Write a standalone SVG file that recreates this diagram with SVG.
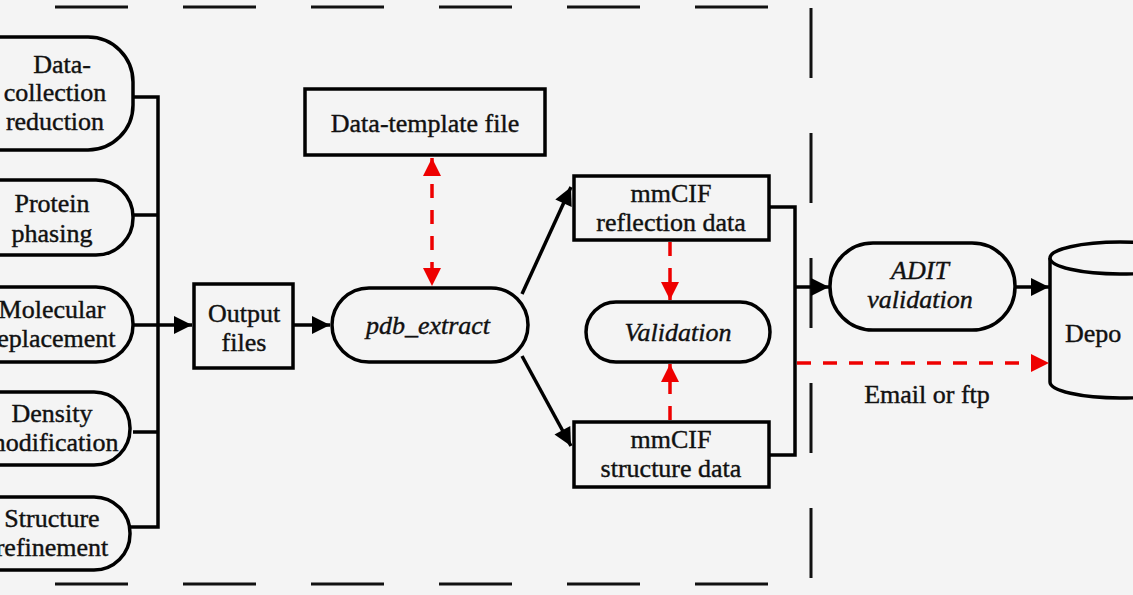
<svg xmlns="http://www.w3.org/2000/svg" width="1133" height="595" viewBox="0 0 1133 595">
<defs>
<marker id="a" viewBox="0 0 10 10" refX="10" refY="5" markerWidth="20" markerHeight="18" orient="auto-start-reverse" markerUnits="userSpaceOnUse"><path d="M0,0L10,5L0,10z" fill="#000"/></marker>
<marker id="ar" viewBox="0 0 10 10" refX="10" refY="5" markerWidth="18" markerHeight="18" orient="auto-start-reverse" markerUnits="userSpaceOnUse"><path d="M0,0L10,5L0,10z" fill="#e00"/></marker>
</defs>
<style>
.s{fill:#f4f4f4;stroke:#000;stroke-width:3.5}
.t{font-family:'Liberation Serif','DejaVu Serif',serif;font-size:26px;fill:#111;text-anchor:middle;stroke:#111;stroke-width:0.4}
.i{font-style:italic}
.c{fill:none;stroke:#000;stroke-width:3.5}
.r{fill:none;stroke:#e00;stroke-width:3.5;stroke-dasharray:14 12}
.b{fill:none;stroke:#111;stroke-width:3;stroke-dasharray:73 55}
</style>
<rect width="1133" height="595" fill="#f4f4f4"/>
<g id="frame">
<line class="b" x1="-73" y1="7" x2="772" y2="7"/>
<line class="b" x1="-73" y1="584" x2="772" y2="584"/>
<line class="b" x1="811" y1="8" x2="811" y2="590" style="stroke-dasharray:70 55"/>
</g>
<g id="n1"><rect class="s" x="-80" y="37" width="213" height="113" rx="45"/><text class="t" x="62" y="73">Data-</text><text class="t" x="55" y="101">collection</text><text class="t" x="55" y="130">reduction</text></g>
<g id="n2"><rect class="s" x="-80" y="180" width="213" height="75" rx="37"/><text class="t" x="52" y="212">Protein</text><text class="t" x="52" y="242">phasing</text></g>
<g id="n3"><rect class="s" x="-80" y="287" width="213" height="75" rx="37"/><text class="t" x="52" y="318">Molecular</text><text class="t" x="52" y="347">replacement</text></g>
<g id="n4"><rect class="s" x="-80" y="392" width="210" height="73" rx="36"/><text class="t" x="52" y="422">Density</text><text class="t" x="52" y="451">modification</text></g>
<g id="n5"><rect class="s" x="-80" y="497" width="210" height="73" rx="36"/><text class="t" x="52" y="527">Structure</text><text class="t" x="52" y="556">refinement</text></g>
<g id="out"><rect class="s" x="194" y="284" width="99" height="84"/><text class="t" x="244" y="322">Output</text><text class="t" x="244" y="351">files</text></g>
<g id="tmpl"><rect class="s" x="305" y="89" width="240" height="66"/><text class="t" x="425" y="132">Data-template file</text></g>
<g id="pdb"><rect class="s" x="332" y="288" width="196" height="74" rx="37"/><text class="t i" x="428" y="334">pdb_extract</text></g>
<g id="refl"><rect class="s" x="574" y="176" width="195" height="64"/><text class="t" x="671" y="202">mmCIF</text><text class="t" x="671" y="231">reflection data</text></g>
<g id="val"><rect class="s" x="586" y="302" width="184" height="60" rx="30"/><text class="t i" x="678" y="341">Validation</text></g>
<g id="struc"><rect class="s" x="574" y="422" width="195" height="65"/><text class="t" x="671" y="448">mmCIF</text><text class="t" x="671" y="477">structure data</text></g>
<g id="adit"><rect class="s" x="830" y="243" width="185" height="87" rx="43"/><text class="t i" x="920" y="279">ADIT</text><text class="t i" x="920" y="308">validation</text></g>
<g id="dep"><path class="s" d="M1050,258 V382 A70,16 0 0 0 1190,382 V258"/><ellipse class="s" cx="1120" cy="258" rx="70" ry="16"/><text class="t" x="1065" y="342" style="text-anchor:start">Depo</text></g>
<g id="connectors">
<path class="c" d="M133,97H158V527H130M133,215H158M133,432H158"/>
<line class="c" x1="133" y1="325" x2="192" y2="325" marker-end="url(#a)"/>
<line class="c" x1="293" y1="325" x2="330" y2="325" marker-end="url(#a)"/>
<line class="r" x1="432" y1="158" x2="432" y2="286" marker-start="url(#ar)" marker-end="url(#ar)"/>
<line class="c" x1="522" y1="294" x2="571" y2="187" marker-end="url(#a)"/>
<line class="c" x1="522" y1="356" x2="571" y2="446" marker-end="url(#a)"/>
<line class="r" x1="670" y1="242" x2="670" y2="300" marker-end="url(#ar)"/>
<line class="r" x1="670" y1="420" x2="670" y2="364" marker-end="url(#ar)"/>
<path class="c" d="M769,207H795V455H769"/>
<line class="c" x1="795" y1="287" x2="829" y2="287" marker-end="url(#a)"/>
<line class="c" x1="1015" y1="287" x2="1049" y2="287" marker-end="url(#a)"/>
<line class="r" x1="797" y1="363" x2="1049" y2="363" marker-end="url(#ar)"/>
<text class="t" x="927" y="403">Email or ftp</text>
</g>
</svg>
